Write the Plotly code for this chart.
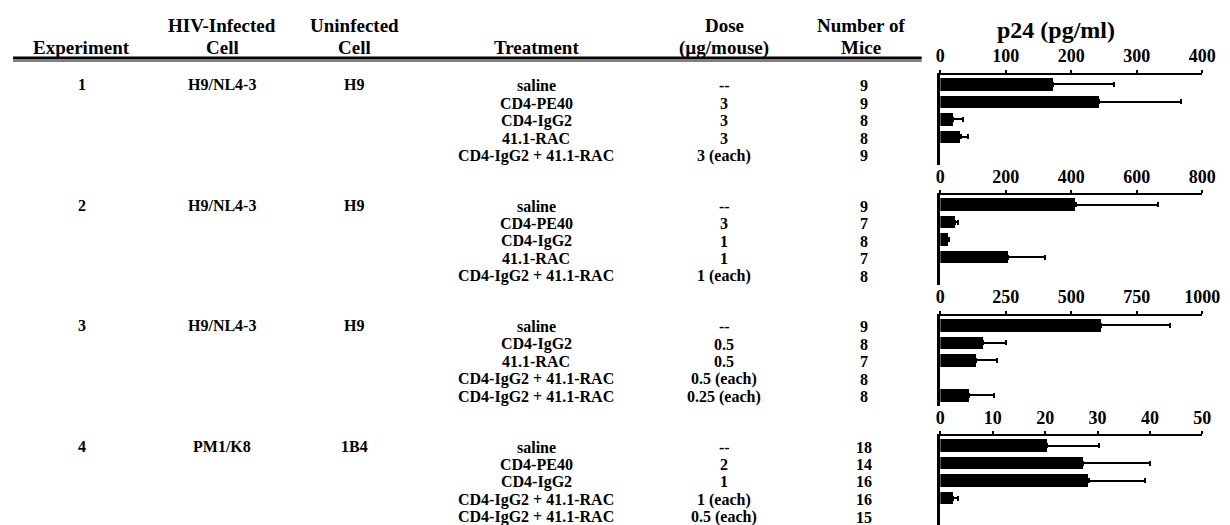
import plotly.graph_objects as go

W, H = 1230, 525

# ---------------- data ----------------
experiments = ["1", "2", "3", "4"]
infected_cells = ["H9/NL4-3", "H9/NL4-3", "H9/NL4-3", "PM1/K8"]
uninfected_cells = ["H9", "H9", "H9", "1B4"]
treatments = [
    ["saline", "CD4-PE40", "CD4-IgG2", "41.1-RAC", "CD4-IgG2 + 41.1-RAC"],
    ["saline", "CD4-PE40", "CD4-IgG2", "41.1-RAC", "CD4-IgG2 + 41.1-RAC"],
    ["saline", "CD4-IgG2", "41.1-RAC", "CD4-IgG2 + 41.1-RAC", "CD4-IgG2 + 41.1-RAC"],
    ["saline", "CD4-PE40", "CD4-IgG2", "CD4-IgG2 + 41.1-RAC", "CD4-IgG2 + 41.1-RAC"],
]
doses = [
    ["--", "3", "3", "3", "3 (each)"],
    ["--", "3", "1", "1", "1 (each)"],
    ["--", "0.5", "0.5", "0.5 (each)", "0.25 (each)"],
    ["--", "2", "1", "1 (each)", "0.5 (each)"],
]
mice = [
    ["9", "9", "8", "8", "9"],
    ["9", "7", "8", "7", "8"],
    ["9", "8", "7", "8", "8"],
    ["18", "14", "16", "16", "15"],
]
# p24 (pg/ml) mean values and upper error (SEM) per experiment
p24_exp1 = [172, 242, 20, 31, None]
err_exp1 = [93, 125, 14, 11, None]
p24_exp2 = [413, 45, 25, 207, None]
err_exp2 = [252, 10, None, 113, None]
p24_exp3 = [615, 163, 138, None, 110]
err_exp3 = [260, 87, 77, None, 93]
p24_exp4 = [20.4, 27.3, 28.3, 2.5, None]
err_exp4 = [9.8, 12.7, 10.8, 0.8, None]
axis_max = [400, 800, 1000, 50]
axis_dtick = [100, 200, 250, 10]

p24_values = [p24_exp1, p24_exp2, p24_exp3, p24_exp4]
p24_errors = [err_exp1, err_exp2, err_exp3, err_exp4]

# ---------------- layout helpers ----------------
FONT = "Liberation Serif"
X0, X1 = 945, 1212          # bar-chart x extent (px)
AX_TOP = [66.5 + 120.5 * b for b in range(4)]
ROW0 = 9.5
ROW_STEP = 17.5
BLOCK_H = 90
COL_EXP, COL_INF, COL_UNINF, COL_TRT, COL_DOSE, COL_MICE = 70, 213, 348, 533, 725, 867


def py(p):
    return 1 - p / H


def px(p):
    return p / W


fig = go.Figure()
annotations = []


def txt(x, y, s, size=16, xanchor="center"):
    annotations.append(dict(
        x=px(x), y=py(y), xref="paper", yref="paper", text=s, showarrow=False,
        xanchor=xanchor, yanchor="middle",
        font=dict(family=FONT, size=size, color="black", weight="bold"),
    ))


# header
HS = 19
txt(COL_EXP, 40, "Experiment", HS)
txt(COL_INF, 18, "HIV-Infected", HS)
txt(COL_INF, 40, "Cell", HS)
txt(COL_UNINF, 18, "Uninfected", HS)
txt(COL_UNINF, 40, "Cell", HS)
txt(COL_TRT, 40, "Treatment", HS)
txt(COL_DOSE, 18, "Dose", HS)
txt(COL_DOSE, 40, "(µg/mouse)", HS)
txt(864, 18, "Number of", HS)
txt(864, 40, "Mice", HS)
txt(1063, 22, "p24 (pg/ml)", 24)

rows_idx = list(range(5))
for b in range(4):
    top = AX_TOP[b]
    rows_y = [top + ROW0 + ROW_STEP * i + 1.5 for i in rows_idx]
    txt(COL_EXP, rows_y[0] - 1, experiments[b])
    txt(COL_INF, rows_y[0] - 1, infected_cells[b])
    txt(COL_UNINF, rows_y[0] - 1, uninfected_cells[b])
    for i in rows_idx:
        txt(COL_TRT, rows_y[i], treatments[b][i])
        txt(COL_DOSE, rows_y[i], doses[b][i])
        txt(COL_MICE, rows_y[i], mice[b][i])

    # bar subplot
    n = b + 1
    xa = "x" if n == 1 else f"x{n}"
    ya = "y" if n == 1 else f"y{n}"
    errs = p24_errors[b]
    fig.add_trace(go.Bar(
        x=p24_values[b], y=rows_idx, orientation="h",
        xaxis=xa, yaxis=ya, width=0.74,
        marker=dict(color="black", line=dict(width=0)),
        error_x=dict(type="data", symmetric=False, array=errs,
                     arrayminus=[0 if e is not None else None for e in errs],
                     color="black", thickness=2, width=2.5),
        showlegend=False,
    ))
    r0 = -ROW0 / ROW_STEP
    r1 = r0 + BLOCK_H / ROW_STEP
    key = "" if n == 1 else str(n)
    fig.update_layout(**{
        f"xaxis{key}": dict(
            domain=[px(X0), px(X1)], anchor=ya, side="top",
            range=[0, axis_max[b]], dtick=axis_dtick[b], tick0=0,
            showline=True, linecolor="black", linewidth=2,
            ticks="outside", ticklen=3, tickwidth=2, tickcolor="black",
            showgrid=False, zeroline=False,
            tickfont=dict(family=FONT, size=18, color="black", weight="bold"),
            fixedrange=True,
        ),
        f"yaxis{key}": dict(
            domain=[py(top + BLOCK_H), py(top)], anchor=xa,
            range=[r1, r0], showline=True, linecolor="black", linewidth=3,
            showticklabels=False, ticks="", showgrid=False, zeroline=False,
            fixedrange=True,
        ),
    })

shapes = [
    dict(type="line", xref="paper", yref="paper", x0=0, x1=px(926),
         y0=py(50), y1=py(50), line=dict(color="black", width=3)),
    dict(type="line", xref="paper", yref="paper", x0=0, x1=px(926),
         y0=py(53), y1=py(53), line=dict(color="black", width=1)),
    dict(type="line", xref="paper", yref="paper", x0=0, x1=px(926),
         y0=py(521.5), y1=py(521.5), line=dict(color="black", width=3)),
]

fig.update_layout(
    width=W, height=H, margin=dict(l=0, r=0, t=0, b=0),
    paper_bgcolor="white", plot_bgcolor="white",
    annotations=annotations, shapes=shapes, bargap=0,
)

fig.write_html("out.html")
